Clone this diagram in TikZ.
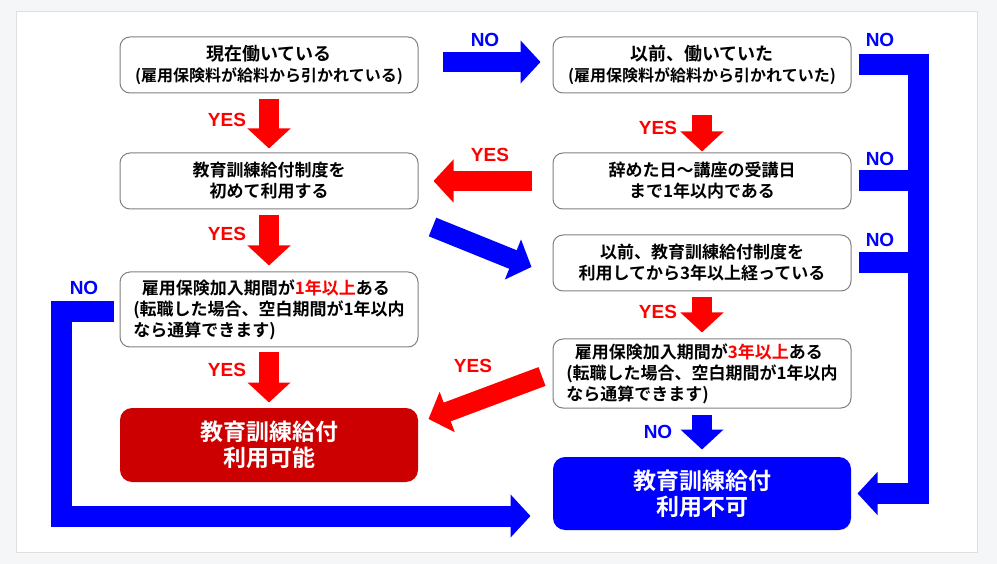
\documentclass[tikz,border=0pt]{standalone}
\usepackage{fontspec}
\setmainfont{Noto Sans CJK JP}[BoldFont={* Bold}]
\newfontfamily\latfont{Liberation Sans}
\usepackage{tikz}
\usetikzlibrary{arrows.meta}
\usetikzlibrary{calc}
\definecolor{panelbg}{HTML}{F5F6F8}
\definecolor{darkred}{HTML}{CC0000}
\tikzstyle{box} = [draw = gray, line width = 1pt, rounded corners = 10pt, fill = white,
    minimum width = 298pt, minimum height = 56pt, inner sep = 2pt, align = center,
    font = \bfseries\fontsize{17}{21}\selectfont]
\tikzstyle{result box} = [box, draw = none, rounded corners = 12pt, text = white,
    font = \bfseries\fontsize{23}{26}\selectfont]
\tikzstyle{fat arrow} = [line width = 20pt, -{Triangle[width = 42pt, length = 20pt]}]
\tikzstyle{red arrow} = [fat arrow, draw = red]
\tikzstyle{blue arrow} = [fat arrow, draw = blue]
\tikzstyle{blue bar} = [line width = 21pt, draw = blue, line join = miter]
\tikzstyle{yes label} = [text = red, font = \latfont\bfseries\fontsize{19}{19}\selectfont]
\tikzstyle{no label} = [yes label, text = blue]

\begin{document}
\begin{tikzpicture}[x = 1pt, y = -1pt]
            \useasboundingbox [fill = panelbg] (0, 0) rectangle (997, 564);
            \draw [fill = white, draw = gray!25] (16, 11) rectangle (977, 552);

            \node [box] (L1) at (269, 65)
                {{\fontsize{18}{20}\selectfont 現在働いている}\\
                 {\fontsize{16}{20}\selectfont (雇用保険料が給料から引かれている)}};
            \node [box] (L2) at (269, 181) {教育訓練給付制度を\\初めて利用する};
            \node [box, minimum height = 75pt, align = left] (L3) at (269, 309.5)
                {\hspace*{0.5em}雇用保険加入期間が\textcolor{red}{1年以上}ある\\
                 (転職した場合、空白期間が1年以内\\なら通算できます)};
            \node [result box, fill = darkred, minimum height = 74pt] (L4) at (269, 445)
                {教育訓練給付\\利用可能};

            \node [box] (R1) at (702, 65)
                {{\fontsize{18}{20}\selectfont 以前、働いていた}\\
                 {\fontsize{16}{20}\selectfont (雇用保険料が給料から引かれていた)}};
            \node [box] (R2) at (702, 181) {辞めた日～講座の受講日\\まで1年以内である};
            \node [box] (R3) at (702, 263) {以前、教育訓練給付制度を\\利用してから3年以上経っている};
            \node [box, minimum height = 69pt, align = left] (R4) at (702, 373.5)
                {\hspace*{0.5em}雇用保険加入期間が\textcolor{red}{3年以上}ある\\
                 (転職した場合、空白期間が1年以内\\なら通算できます)};
            \node [result box, fill = blue, minimum height = 73pt] (R5) at (702, 493.5)
                {教育訓練給付\\利用不可};

            \foreach \a/\b/\s/\t in {L1/L2/6/-4, L2/L3/6/-6, L3/L4/5/-5, R1/R2/22/-1, R3/R4/6/-6}
            {
                \draw [red arrow] ([shift = {(0, \s)}] \a.south) -- ([shift = {(0, \t)}] \b.north);
            }
            \draw [blue arrow] ([shift = {(0, 6)}] R4.south) -- ([shift = {(0, -7)}] R5.north);

            \draw [blue arrow] ([shift = {(24, -3)}] L1.east) -- ([shift = {(-12, -3)}] R1.west);
            \draw [red arrow] ([shift = {(-21, 0)}] R2.west) -- ([shift = {(15, 0)}] L2.east);
            \draw [blue arrow] ([shift = {(14, 46)}] L2.east) -- ([shift = {(-21, 4)}] R3.west);
            \draw [red arrow] ([shift = {(-10.5, 3)}] R4.west) -- ([shift = {(10, -26)}] L4.east);

            \coordinate (rbar) at (918.5, 0);
            \draw [blue bar, -{Triangle[width = 42pt, length = 20pt]}]
                  ([shift = {(7, 0)}] R1.east) -- (R1.east -| rbar)
                  -- (R5.east -| rbar) -- ([shift = {(6, 0)}] R5.east);
            \foreach \b in {R2, R3}
            {
                \draw [blue bar] ([shift = {(7, 0)}] \b.east) -- (\b.east -| rbar);
            }

            \coordinate (lbar) at (61.5, 0);
            \coordinate (lstart) at ([shift = {(-6, 2.5)}] L3.west);
            \coordinate (lend) at ([shift = {(-22, 22.5)}] R5.west);
            \draw [blue bar, -{Triangle[width = 42pt, length = 20pt]}]
                  (lstart) -- (lstart -| lbar) -- (lend -| lbar) -- (lend);

            \foreach \x/\y/\n in {227/120/1, 227/234/2, 227/370/3, 490/155/4,
                                  473/366/5, 658/128/6, 658/312/7}
            {
                \node [yes label] (yes\n) at (\x, \y) {YES};
            }
            \foreach \x/\y/\n in {485/40/1, 880/40/2, 880/159/3, 880/240/4, 84/288/5, 658/432/6}
            {
                \node [no label] (no\n) at (\x, \y) {NO};
            }
        \end{tikzpicture}
\end{document}
